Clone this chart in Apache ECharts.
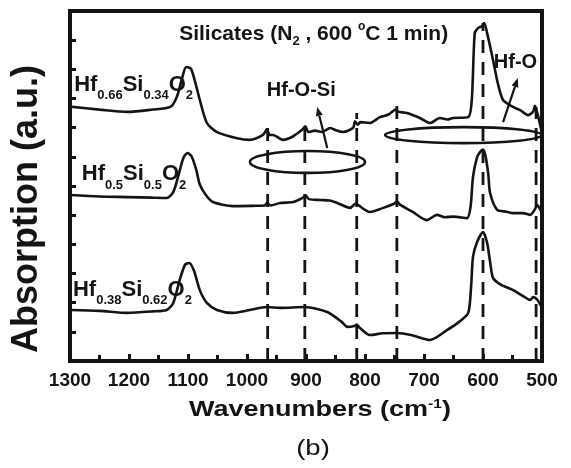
<!DOCTYPE html>
<html><head><meta charset="utf-8">
<script src="https://cdn.jsdelivr.net/npm/echarts@6/dist/echarts.min.js"></script>
<style>html,body{margin:0;padding:0;background:#fff}#c{width:571px;height:468px}</style>
</head><body><div id="c"></div>
<script>
// ---- data (wavenumber cm^-1, absorption a.u.) ----
const hf066 = [[1300,8.72],[1250,8.62],[1203,8.54],[1160,8.62],[1130,8.71],[1119,9.05],[1110,9.7],[1103,10.08],[1095,10.02],[1087,9.5],[1080,8.95],[1068,8.16],[1051,7.85],[1017,7.64],[995,7.58],[973,7.75],[966,7.95],[962,7.75],[956,7.75],[939,7.58],[924,7.68],[907,7.92],[901,8.05],[896,7.85],[885,7.9],[873,7.85],[859,7.99],[848,7.9],[837,7.85],[820,8.0],[817,8.22],[812,8.1],[808,8.19],[792,8.16],[775,8.36],[760,8.45],[748,8.62],[744,8.55],[729,8.5],[707,8.33],[690,8.16],[673,8.33],[660,8.28],[651,8.33],[625,8.36],[619,8.95],[614,11.24],[608,11.42],[602,11.48],[598,11.59],[593,11.24],[583,10.32],[575,9.53],[566,8.95],[549,8.71],[537,8.6],[530,8.5],[524,8.43],[515,8.55],[512,8.75],[507,8.43],[500,7.82]];
const hf05 = [[1300,5.69],[1250,5.64],[1203,5.62],[1160,5.6],[1136,5.59],[1125,5.79],[1117,6.3],[1108,6.95],[1101,7.13],[1094,7.02],[1086,6.55],[1080,6.05],[1070,5.7],[1058,5.45],[1024,5.31],[990,5.32],[970,5.33],[966,5.42],[960,5.33],[944,5.42],[922,5.45],[905,5.6],[901,5.68],[895,5.55],[876,5.52],[860,5.5],[847,5.42],[825,5.25],[816,5.4],[812,5.35],[792,5.11],[769,5.25],[750,5.4],[746,5.47],[740,5.35],[719,5.11],[695,4.83],[678,5.01],[665,4.93],[650,4.95],[627,4.9],[621,5.3],[617,6.31],[610,6.99],[605,7.16],[600,7.25],[596,7.05],[591,6.4],[588,5.76],[576,5.18],[560,5.12],[549,5.07],[532,5.07],[520,5.01],[512,5.2],[508,5.35],[503,5.2],[500,5.07]];
const hf038 = [[1300,1.75],[1250,1.72],[1203,1.65],[1160,1.7],[1136,1.75],[1125,1.99],[1114,2.78],[1105,3.3],[1098,3.36],[1090,3.1],[1080,2.43],[1068,1.99],[1051,1.75],[1024,1.65],[995,1.75],[966,1.85],[944,1.82],[902,1.85],[864,1.68],[840,1.35],[830,1.17],[818,1.2],[814,1.25],[808,1.12],[792,0.89],[770,0.95],[746,0.96],[720,0.88],[690,0.72],[661,1.06],[640,1.35],[625,1.65],[620,2.6],[617,3.57],[610,4.08],[600,4.42],[593,4.05],[588,3.4],[583,2.85],[570,2.62],[549,2.43],[530,2.2],[520,2.09],[515,2.19],[508,2.1],[500,1.82]];
const dashX   = [965, 902, 814, 746, 600, 510];
const dashTop = [8.02, 8.19, 8.50, 9.05, 11.59, 8.71];
const xMin = 500, xMax = 1300, xStep = 100;
const yMin = 0, yMax = 12, yStep = 1;

const FF = '"Liberation Sans", Arial, sans-serif';
const INK = '#141414';
const chart = echarts.init(document.getElementById('c'), null, {renderer:'canvas'});

const series = [];
[hf066, hf05, hf038].forEach((d, i) => {
  series.push({type:'line', data:d, showSymbol:false, smooth:0.25, silent:true,
    lineStyle:{color:INK, width:2.6}, z:3});
});
dashX.forEach((x, i) => {
  series.push({type:'line', data:[[x, yMin],[x, dashTop[i]]], showSymbol:false, silent:true,
    lineStyle:{color:INK, width:2.8, type:[13,9]}, z:2});
});

chart.setOption({
  animation:false,
  grid:{left:70, right:29, top:11, bottom:107, show:true, borderColor:INK, borderWidth:4, backgroundColor:'transparent'},
  xAxis:{type:'value', min:xMin, max:xMax, interval:xStep, inverse:true,
    axisLine:{show:true, lineStyle:{color:INK, width:4}},
    axisTick:{show:true, inside:true, length:7, lineStyle:{color:INK, width:3}},
    minorTick:{show:true, splitNumber:2, length:6, lineStyle:{color:INK, width:3}},
    splitLine:{show:false},
    axisLabel:{color:INK, fontSize:19, fontWeight:'bold', fontFamily:FF, margin:10,
      formatter:(v) => String(v)}},
  yAxis:{type:'value', min:yMin, max:yMax, interval:yStep,
    axisLine:{show:true, lineStyle:{color:INK, width:4}},
    axisTick:{show:true, inside:true, length:6, lineStyle:{color:INK, width:3}},
    axisLabel:{show:false}, splitLine:{show:false}},
  series: series
});

// ---- annotations (data coordinates) ----
function P(x, y){ return chart.convertToPixel({gridIndex:0}, [x, y]); }
const g = [];
function rtext(x, y, text, rich){
  const p = P(x, y);
  g.push({type:'text', x:p[0], y:p[1], z:10, silent:true,
    style:{text:text, rich:rich, fill:INK, font:'bold 20px '+FF,
      align:'center', verticalAlign:'middle', textAlign:'center', textVerticalAlign:'middle'}});
}
const compRich = {
  m:{fontSize:22, fontWeight:'bold', fontFamily:FF, fill:INK, color:INK},
  s:{fontSize:13, fontWeight:'bold', fontFamily:FF, fill:INK, color:INK, padding:[22,0,0,0]}
};
function compLabel(x, y, a, b){
  const p = P(x, y);
  g.push({type:'text', x:p[0], y:p[1], z:10, silent:true,
    style:{text:'{m|Hf}{s|'+a+'}{m|Si}{s|'+b+'}{m|O}{s|2}', rich:compRich, fill:INK,
      align:'left', verticalAlign:'middle', textAlign:'left', textVerticalAlign:'middle'}});
}
compLabel(1293, 9.48, '0.66', '0.34');
compLabel(1280, 6.40, '0.5', '0.5');
compLabel(1295, 2.45, '0.38', '0.62');

const titleRich = {
  a:{fontSize:21, fontWeight:'bold', fontFamily:FF, fill:INK, color:INK},
  s:{fontSize:13, fontWeight:'bold', fontFamily:FF, fill:INK, color:INK, padding:[14,0,0,0]},
  o:{fontSize:12, fontWeight:'bold', fontFamily:FF, fill:INK, color:INK, padding:[0,0,16,0]}
};
const lblRich = {a:{fontSize:20, fontWeight:'bold', fontFamily:FF, fill:INK, color:INK}};
rtext(887, 11.19, '{a|Silicates (N}{s|2}{a| , 600 }{o|o}{a|C 1 min)}', titleRich);
rtext(908, 9.29, '{a|Hf-O-Si}', lblRich);
rtext(545, 10.22, '{a|Hf-O}', lblRich);

function ellipse(x1, x2, y1, y2){
  const a = P(x1, y1), b = P(x2, y2);
  g.push({type:'ellipse', z:9, silent:true,
    shape:{cx:(a[0]+b[0])/2, cy:(a[1]+b[1])/2, rx:Math.abs(b[0]-a[0])/2, ry:Math.abs(b[1]-a[1])/2},
    style:{fill:'none', stroke:INK, lineWidth:2.6}});
}
ellipse(995, 800, 7.20, 6.45);
ellipse(766, 500, 8.02, 7.47);

function arrow(x1, y1, x2, y2){
  const a = P(x1, y1), b = P(x2, y2);
  const dx = b[0]-a[0], dy = b[1]-a[1], L = Math.hypot(dx, dy);
  const ux = dx/L, uy = dy/L, hl = 9, hw = 3.5;
  const bx = b[0]-ux*hl, by = b[1]-uy*hl;
  g.push({type:'line', z:9, silent:true, shape:{x1:a[0], y1:a[1], x2:bx, y2:by},
    style:{stroke:INK, lineWidth:2.2}});
  g.push({type:'polygon', z:9, silent:true,
    shape:{points:[[b[0],b[1]],[bx-uy*hw, by+ux*hw],[bx+uy*hw, by-ux*hw]]},
    style:{fill:INK}});
}
arrow(864, 7.30, 881, 8.71);
arrow(566, 8.19, 541, 9.70);

// axis titles
g.push({type:'text', x:27, y:209, rotation:Math.PI/2, z:10, silent:true,
  style:{text:'Absorption (a.u.)', fill:INK, font:'bold 36px '+FF,
    align:'center', verticalAlign:'middle', textAlign:'center', textVerticalAlign:'middle'}});
g.push({type:'text', x:320, y:410, scaleX:1.2, z:10, silent:true,
  style:{text:'{a|Wavenumbers (cm}{s|-1}{a|)}', fill:INK,
    rich:{a:{fontSize:22.5, fontWeight:'bold', fontFamily:FF, fill:INK, color:INK},
          s:{fontSize:13, fontWeight:'bold', fontFamily:FF, fill:INK, color:INK, padding:[0,0,12,0]}},
    align:'center', verticalAlign:'middle', textAlign:'center', textVerticalAlign:'middle'}});
g.push({type:'text', x:313, y:449, scaleX:1.25, z:10, silent:true,
  style:{text:'(b)', fill:INK, font:'22px '+FF,
    align:'center', verticalAlign:'middle', textAlign:'center', textVerticalAlign:'middle'}});

chart.setOption({graphic:g});
</script></body></html>
